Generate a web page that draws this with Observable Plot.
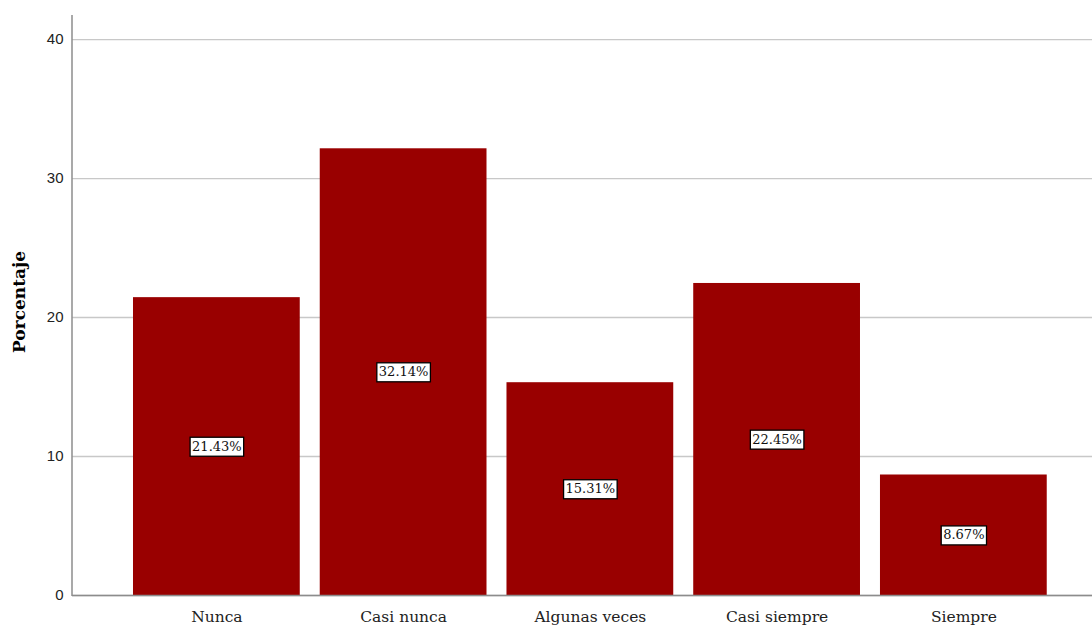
<!DOCTYPE html>
<html>
<head>
<meta charset="utf-8">
<script src="https://cdn.jsdelivr.net/npm/d3@7"></script>
<script src="https://cdn.jsdelivr.net/npm/@observablehq/plot@0.6"></script>
<style>
  html, body { margin: 0; padding: 0; background: #fff; }
  #chart svg { display: block; }
</style>
</head>
<body>
<div id="chart"></div>
<script>
const categories = ["Nunca", "Casi nunca", "Algunas veces", "Casi siempre", "Siempre"];
const values = [21.43, 32.14, 15.31, 22.45, 8.67];
const yTicks = [0, 10, 20, 30, 40];

const data = categories.map((c, i) => ({category: c, value: values[i]}));

const chart = Plot.plot({
  width: 1092,
  height: 628,
  marginLeft: 72,
  marginRight: 0,
  marginTop: 15,
  marginBottom: 33,
  style: {background: "#fff"},
  x: {
    domain: categories,
    paddingInner: 0.107,
    paddingOuter: 0.2845,
    align: 0.574,
    round: false,
    label: null
  },
  y: {
    domain: [0, 41.73],
    label: null
  },
  marks: [
    Plot.gridY(yTicks, {stroke: "#c8c8c8", strokeOpacity: 1, strokeWidth: 1.3}),
    Plot.barY(data, {x: "category", y: "value", fill: "#990000", inset: 0}),
    Plot.ruleY([0], {stroke: "#8c8c8c", strokeWidth: 1.5}),
    Plot.axisY(yTicks, {
      tickSize: 0, tickPadding: 9, fontSize: 15, fill: "#222",
      fontFamily: "Liberation Sans, Arial, sans-serif", label: null
    }),
    Plot.axisX({
      tickSize: 0, tickPadding: 15, fontSize: 15.5, fill: "#222",
      fontFamily: "DejaVu Serif, serif", label: null
    }),
    Plot.text(data, {
      x: "category", y: d => d.value / 2, text: d => d.value.toFixed(2) + "%",
      fontSize: 13, fontFamily: "DejaVu Serif, serif", fill: "#111",
      className: "vlabel"
    })
  ]
});

document.getElementById("chart").appendChild(chart);

const svg = d3.select(chart);
// vertical axis line at the left of the frame
svg.append("line")
  .attr("x1", 72).attr("x2", 72).attr("y1", 15).attr("y2", 596)
  .attr("stroke", "#8c8c8c").attr("stroke-width", 1.5);

// y-axis title
svg.append("text")
  .attr("transform", "translate(25,302) rotate(-90)")
  .attr("text-anchor", "middle")
  .attr("font-family", "DejaVu Serif, serif")
  .attr("font-weight", "bold")
  .attr("font-size", 17)
  .attr("fill", "#000")
  .text("Porcentaje");

// white boxes behind value labels
svg.selectAll("g.vlabel text").each(function() {
  const b = this.getBBox();
  const r = document.createElementNS("http://www.w3.org/2000/svg", "rect");
  const t = this.getAttribute("transform");
  if (t) r.setAttribute("transform", t);
  r.setAttribute("x", b.x - 2);
  r.setAttribute("y", b.y - 1.5);
  r.setAttribute("width", b.width + 4);
  r.setAttribute("height", b.height + 4);
  r.setAttribute("fill", "#fff");
  r.setAttribute("stroke", "#000");
  r.setAttribute("stroke-width", 1.3);
  this.parentNode.insertBefore(r, this);
});
</script>
</body>
</html>
